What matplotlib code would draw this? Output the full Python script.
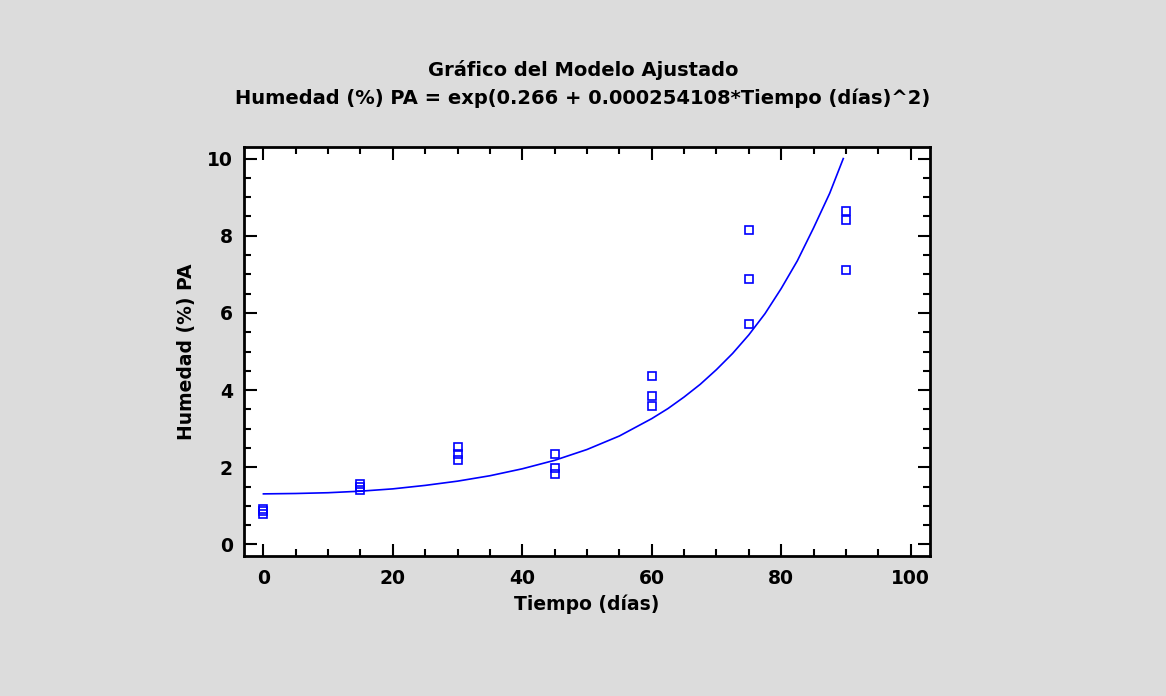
import matplotlib.pyplot as plt
from matplotlib.ticker import MultipleLocator

plt.rcParams['font.family'] = ['DejaVu Sans']
plt.rcParams['font.weight'] = 'bold'

tiempo = [0, 0, 0, 15, 15, 15, 30, 30, 30, 45, 45, 45,
          60, 60, 60, 75, 75, 75, 90, 90, 90]
humedad = [0.80, 0.86, 0.92, 1.40, 1.48, 1.57, 2.18, 2.34, 2.52,
           1.82, 1.97, 2.34, 3.59, 3.85, 4.36, 5.71, 6.88, 8.14,
           7.10, 8.41, 8.63]

# Fitted curve, points
curva_x = [0, 5, 10, 15, 20, 25, 30, 35, 40, 45, 50, 55, 60, 62.5,
           65, 67.5, 70, 72.5, 75, 77.5, 80, 82.5, 85, 87.5, 89.6]
curva_y = [1.31, 1.32, 1.34, 1.38, 1.44, 1.53, 1.64, 1.78, 1.96, 2.18,
           2.46, 2.81, 3.26, 3.52, 3.82, 4.15, 4.53, 4.95, 5.43, 5.98,
           6.63, 7.35, 8.20, 9.10, 10.0]

bg = '#dcdcdc'
fig = plt.figure(figsize=(11.66, 6.96), dpi=100, facecolor=bg)
ax = fig.add_axes([244 / 1166, 1 - 556 / 696, 686 / 1166, 409 / 696])
ax.set_facecolor('white')

ax.plot(curva_x, curva_y, color='#0000ff', lw=1.2)
ax.plot(tiempo, humedad, linestyle='none', marker='s', markersize=5.8,
        markerfacecolor='none', markeredgecolor='#0000ff', markeredgewidth=1.2)

ax.set_xlim(-3, 103)
ax.set_ylim(-0.3, 10.3)
ax.xaxis.set_major_locator(MultipleLocator(20))
ax.xaxis.set_minor_locator(MultipleLocator(5))
ax.yaxis.set_major_locator(MultipleLocator(2))
ax.yaxis.set_minor_locator(MultipleLocator(0.5))
ax.tick_params(which='both', direction='in', top=True, right=True,
               width=1.5, labelsize=13.5)
ax.tick_params(axis='x', pad=9)
ax.tick_params(axis='y', pad=8)
ax.tick_params(which='major', length=9)
ax.tick_params(which='minor', length=5)
for s in ax.spines.values():
    s.set_linewidth(2)

ax.set_xlabel('Tiempo (días)', fontsize=13.5, fontweight='bold', labelpad=5)
ax.set_ylabel('Humedad (%) PA', fontsize=13.5, fontweight='bold', labelpad=8)

fig.text(0.5, 1 - 70 / 696, 'Gráfico del Modelo Ajustado', ha='center',
         va='center', fontsize=14, fontweight='bold')
fig.text(0.5, 1 - 98 / 696,
         'Humedad (%) PA = exp(0.266 + 0.000254108*Tiempo (días)^2)',
         ha='center', va='center', fontsize=14, fontweight='bold')

fig.savefig('out.png', dpi=100, facecolor=bg)
